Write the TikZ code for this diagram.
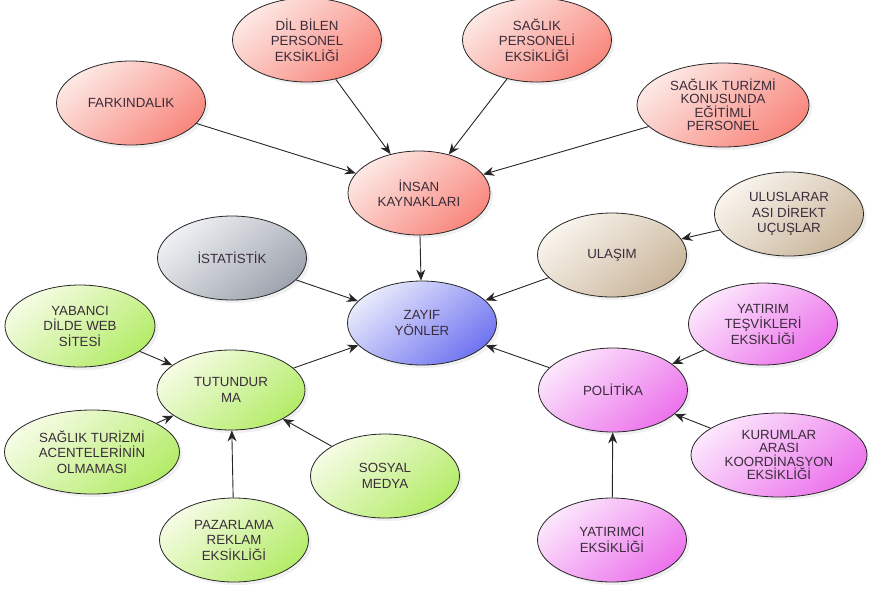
\documentclass[tikz,border=0pt]{standalone}
\usepackage{fontspec}
\setmainfont{Liberation Sans}
\usepackage{tikz}
\usetikzlibrary{arrows.meta,shapes,shadows}
\definecolor{txtgray}{RGB}{58,44,58}
\definecolor{redlight}{RGB}{253,232,228}
\definecolor{reddark}{RGB}{248,135,125}
\definecolor{greylight}{RGB}{238,240,243}
\definecolor{greydark}{RGB}{158,164,174}
\definecolor{tanlight}{RGB}{249,244,237}
\definecolor{tandark}{RGB}{202,182,156}
\definecolor{bluelight}{RGB}{232,234,252}
\definecolor{bluedark}{RGB}{112,116,240}
\definecolor{greenlight}{RGB}{245,252,228}
\definecolor{greendark}{RGB}{180,236,105}
\definecolor{pinklight}{RGB}{252,230,252}
\definecolor{pinkdark}{RGB}{236,115,236}

\begin{document}
\begin{tikzpicture}[x=1pt,y=-1pt,
        bubble/.style={ellipse, draw=black!85, thick, inner sep=0pt,
            minimum width=149pt, minimum height=84pt, align=center,
            text=txtgray, font=\fontsize{13.3}{15.5}\selectfont,
            drop shadow={opacity=0.12, shadow xshift=3pt, shadow yshift=-3pt}},
        redbubble/.style={bubble, top color=redlight, bottom color=reddark, shading angle=40},
        greybubble/.style={bubble, top color=greylight, bottom color=greydark, shading angle=40},
        tanbubble/.style={bubble, top color=tanlight, bottom color=tandark, shading angle=40},
        bluebubble/.style={bubble, top color=bluelight, bottom color=bluedark, shading angle=40},
        greenbubble/.style={bubble, top color=greenlight, bottom color=greendark, shading angle=40},
        pinkbubble/.style={bubble, top color=pinklight, bottom color=pinkdark, shading angle=40},
        link/.style={draw=black!85, line width=0.9pt, -{Stealth[length=11pt,width=9pt]}}]
    \useasboundingbox (0,0) rectangle (869,590);

    % insan kaynaklari
    \node[redbubble] (farkindalik) at (131,103) {FARKINDALIK};
    \node[redbubble] (dilbilen) at (307,40) {DİL BİLEN\\PERSONEL\\EKSİKLİĞİ};
    \node[redbubble] (saglikpers) at (537,40) {SAĞLIK\\PERSONELİ\\EKSİKLİĞİ};
    \node[redbubble, minimum width=172pt, font=\fontsize{13.3}{13.5}\selectfont] (egitimli) at (723,105)
        {SAĞLIK TURİZMİ\\KONUSUNDA\\EĞİTİMLİ\\PERSONEL};
    \node[redbubble, minimum width=142pt] (insan) at (419,193) {İNSAN\\KAYNAKLARI};

    % merkez
    \node[bluebubble] (zayif) at (422,323) {ZAYIF\\YÖNLER};
    \node[greybubble] (istatistik) at (232,258) {İSTATİSTİK};

    % ulasim
    \node[tanbubble] (ulasim) at (612,255) {ULAŞIM};
    \node[tanbubble] (ucuslar) at (789,214) {ULUSLARAR\\ASI DİREKT\\UÇUŞLAR};

    % tutundurma
    \node[greenbubble, minimum width=148pt, minimum height=80pt] (tutundurma) at (231,390) {TUTUNDUR\\MA};
    \node[greenbubble, minimum width=150pt, minimum height=82pt] (website) at (80,326) {YABANCI\\DİLDE WEB\\SİTESİ};
    \node[greenbubble, minimum width=175pt] (acente) at (92,452) {SAĞLIK TURİZMİ\\ACENTELERİNİN\\OLMAMASI};
    \node[greenbubble] (pazarlama) at (234,540) {PAZARLAMA\\REKLAM\\EKSİKLİĞİ};
    \node[greenbubble] (sosyal) at (385,476) {SOSYAL\\MEDYA};

    % politika
    \node[pinkbubble] (politika) at (613,390) {POLİTİKA};
    \node[pinkbubble, minimum height=82pt] (tesvik) at (763,324) {YATIRIM\\TEŞVİKLERİ\\EKSİKLİĞİ};
    \node[pinkbubble, minimum width=176pt, font=\fontsize{13.3}{13.5}\selectfont] (kurumlar) at (779,455)
        {KURUMLAR\\ARASI\\KOORDİNASYON\\EKSİKLİĞİ};
    \node[pinkbubble] (yatirimci) at (612,540) {YATIRIMCI\\EKSİKLİĞİ};

    % baglantilar
    \draw[link] (farkindalik) -- (insan);
    \draw[link] (dilbilen) -- (insan);
    \draw[link] (saglikpers) -- (insan);
    \draw[link] (egitimli) -- (insan);
    \draw[link] (insan) -- (zayif);
    \draw[link] (istatistik) -- (zayif);
    \draw[link] (ulasim) -- (zayif);
    \draw[link] (ucuslar) -- (ulasim);
    \draw[link] (tutundurma) -- (zayif);
    \draw[link] (politika) -- (zayif);
    \draw[link] (website) -- (tutundurma);
    \draw[link] (acente) -- (tutundurma);
    \draw[link] (pazarlama) -- (tutundurma);
    \draw[link] (sosyal) -- (tutundurma);
    \draw[link] (tesvik) -- (politika);
    \draw[link] (kurumlar) -- (politika);
    \draw[link] (yatirimci) -- (politika);
\end{tikzpicture}
\end{document}
